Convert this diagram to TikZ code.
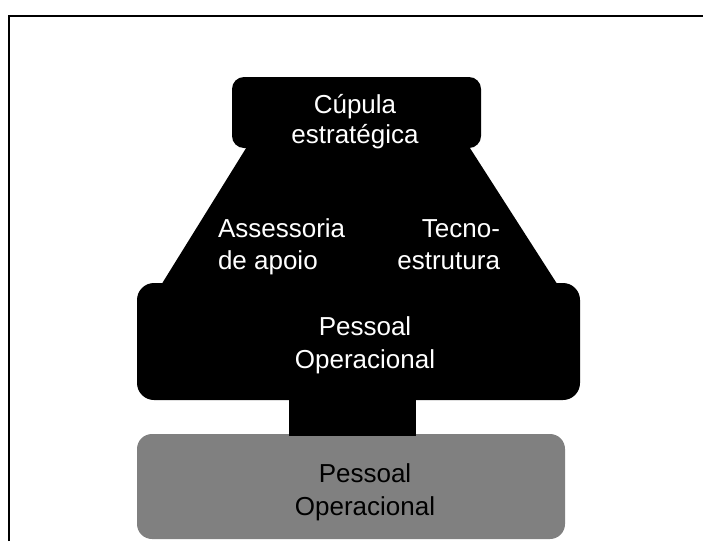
\documentclass[tikz,border=0pt]{standalone}
\usepackage{fontspec}
\setmainfont{Liberation Sans}
\definecolor{boxgrey}{HTML}{808080}
\begin{document}
\begin{tikzpicture}[x=1pt,y=-1pt,
  lbl/.style={inner sep=0pt,outer sep=0pt,text=white,font=\fontsize{26}{33}\selectfont},
  darklbl/.style={lbl,text=black},
  frameline/.style={line width=2pt,draw=black}]
\useasboundingbox (0,0) rectangle (703,541);
% frame
\draw[frameline] (9,541) -- (9,16) -- (703,16);
% grey base
\fill[boxgrey,rounded corners=15pt] (137,434) rectangle (565,539);
% stem
\fill[black] (289,398) rectangle (416,436);
% trapezoid
\fill[black] (248,145) -- (468,145) -- (561,290) -- (158,290) -- cycle;
% top box
\fill[black,rounded corners=12pt] (232,77) rectangle (481,148);
% middle box
\fill[black,rounded corners=17pt] (137,283) rectangle (580,400);
% labels (base anchor = baseline of last line)
\node[lbl,anchor=base,align=center,font=\fontsize{26}{30}\selectfont] (cupula) at (355,143) {Cúpula\\estratégica};
\node[lbl,anchor=base west,align=left,font=\fontsize{26}{32}\selectfont] (assessoria) at (218,269) {Assessoria\\de apoio};
\node[lbl,anchor=base east,align=right,font=\fontsize{26}{32}\selectfont] (tecno) at (500,269) {Tecno-\\estrutura};
\node[lbl,anchor=base,align=center] (pessoal) at (365,368) {Pessoal\\Operacional};
\node[darklbl,anchor=base,align=center] (pessoalbase) at (365,515) {Pessoal\\Operacional};
\end{tikzpicture}
\end{document}
